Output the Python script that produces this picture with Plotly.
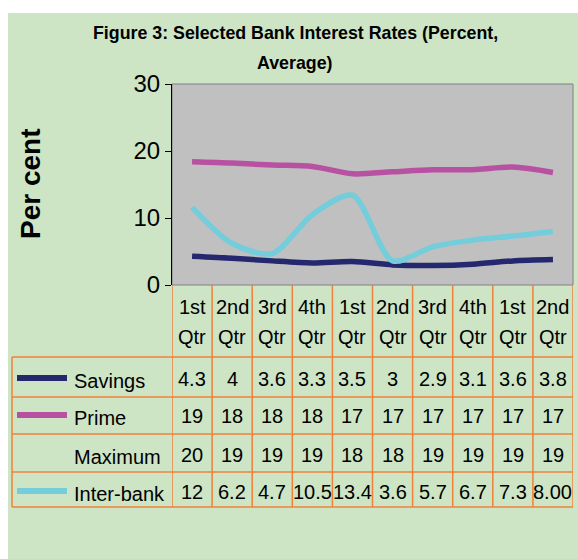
import plotly.graph_objects as go

# ---- data ----
quarters = ["1st Qtr", "2nd Qtr", "3rd Qtr", "4th Qtr", "1st Qtr",
            "2nd Qtr", "3rd Qtr", "4th Qtr", "1st Qtr", "2nd Qtr"]
savings = [4.3, 4.0, 3.6, 3.3, 3.5, 3.0, 2.9, 3.1, 3.6, 3.8]
prime = [18.4, 18.2, 17.9, 17.7, 16.6, 16.9, 17.2, 17.2, 17.6, 16.8]
interbank = [11.6, 6.2, 4.7, 10.5, 13.4, 3.6, 5.7, 6.7, 7.3, 8.0]

savings_tbl = ["4.3", "4", "3.6", "3.3", "3.5", "3", "2.9", "3.1", "3.6", "3.8"]
prime_tbl = ["19", "18", "18", "18", "17", "17", "17", "17", "17", "17"]
maximum_tbl = ["20", "19", "19", "19", "18", "18", "19", "19", "19", "19"]
interbank_tbl = ["12", "6.2", "4.7", "10.5", "13.4", "3.6", "5.7", "6.7", "7.3", "8.00"]

series_names = ["Savings", "Prime", "Maximum", "Inter-bank"]
series_colors = ["#25276f", "#b851a2", None, "#73cdda"]
y_ticks = [0, 10, 20, 30]

W, H = 578, 559
def px(x): return x / W
def py(y): return 1 - y / H

GREEN = "#cde5c4"
ORANGE = "#f0803a"
FONT = "Liberation Sans, Arial, sans-serif"

fig = go.Figure()
x_idx = list(range(len(quarters)))
for name, vals, col in [("Savings", savings, series_colors[0]),
                        ("Prime", prime, series_colors[1]),
                        ("Inter-bank", interbank, series_colors[3])]:
    fig.add_trace(go.Scatter(x=x_idx, y=vals, mode="lines", name=name,
                             line=dict(color=col, width=5.5, shape="spline", smoothing=0.8),
                             showlegend=False, hoverinfo="skip"))

shapes = []
# green background panel
shapes.append(dict(type="rect", xref="paper", yref="paper", x0=px(8), x1=1.0,
                   y0=0, y1=py(13), fillcolor=GREEN, line=dict(width=0), layer="below"))
# plot area
shapes.append(dict(type="rect", xref="x domain", yref="y domain", x0=0, x1=1, y0=0, y1=1,
                   fillcolor="#c0c0c0", line=dict(color="#808080", width=1), layer="below"))

# table lines
row_lines = [357, 397, 434, 472, 507]
for yy in row_lines:
    shapes.append(dict(type="line", xref="paper", yref="paper", x0=px(12), x1=px(573),
                       y0=py(yy), y1=py(yy), line=dict(color=ORANGE, width=1.5)))
shapes.append(dict(type="line", xref="paper", yref="paper", x0=px(12), x1=px(12),
                   y0=py(357), y1=py(507), line=dict(color=ORANGE, width=1.5)))
for i in range(len(quarters) + 1):
    shapes.append(dict(type="line", xref="x", yref="paper", x0=i - 0.5, x1=i - 0.5,
                       y0=py(285), y1=py(507), line=dict(color=ORANGE, width=1.5)))

annotations = []
# title
annotations.append(dict(text="<b>Figure 3: Selected Bank Interest Rates (Percent,</b>",
                        x=px(295), y=py(33), xref="paper", yref="paper", showarrow=False,
                        font=dict(family=FONT, size=17.8, color="black"),
                        xanchor="center", yanchor="middle"))
annotations.append(dict(text="<b>Average)</b>",
                        x=px(295), y=py(63), xref="paper", yref="paper", showarrow=False,
                        font=dict(family=FONT, size=17.8, color="black"),
                        xanchor="center", yanchor="middle"))
# y title
annotations.append(dict(text="<b>Per cent</b>", x=px(31), y=py(184), xref="paper", yref="paper",
                        showarrow=False, textangle=-90,
                        font=dict(family=FONT, size=28, color="black"),
                        xanchor="center", yanchor="middle"))
# category labels
for i, q in enumerate(quarters):
    a, b = q.split(" ")
    annotations.append(dict(text=a, x=i, y=py(307), xref="x", yref="paper", showarrow=False,
                            font=dict(family=FONT, size=20, color="black"),
                            xanchor="center", yanchor="middle"))
    annotations.append(dict(text=b, x=i, y=py(337), xref="x", yref="paper", showarrow=False,
                            font=dict(family=FONT, size=20, color="black"),
                            xanchor="center", yanchor="middle"))

row_y = [379, 416, 455, 492]
tables = [savings_tbl, prime_tbl, maximum_tbl, interbank_tbl]
for r, (name, col, tbl) in enumerate(zip(series_names, series_colors, tables)):
    ry = row_y[r]
    annotations.append(dict(text=name, x=px(72), y=py(ry + 2), xref="paper", yref="paper",
                            showarrow=False, font=dict(family=FONT, size=20, color="black"),
                            xanchor="left", yanchor="middle"))
    if col:
        shapes.append(dict(type="line", xref="paper", yref="paper", x0=px(17), x1=px(67),
                           y0=py(ry - 1), y1=py(ry - 1), line=dict(color=col, width=6)))
    for i, t in enumerate(tbl):
        annotations.append(dict(text=t, x=i, y=py(ry), xref="x", yref="paper", showarrow=False,
                                font=dict(family=FONT, size=20, color="black"),
                                xanchor="center", yanchor="middle"))

fig.update_layout(
    width=W, height=H,
    margin=dict(l=0, r=0, t=0, b=0, autoexpand=False),
    paper_bgcolor="white",
    plot_bgcolor="rgba(0,0,0,0)",
    xaxis=dict(domain=[px(172), px(573)], range=[-0.5, len(quarters) - 0.5],
               showticklabels=False, showgrid=False, zeroline=False, showline=False,
               ticks="", automargin=False),
    yaxis=dict(domain=[py(285), py(84)], range=[0, 30], tickvals=y_ticks,
               ticks="outside", ticklen=6, tickcolor="black", showline=True,
               linecolor="black", linewidth=1, showgrid=False, zeroline=False,
               automargin=False,
               tickfont=dict(family=FONT, size=24, color="black")),
    shapes=shapes,
    annotations=annotations,
)

post = (
    "var h=document.documentElement,b=document.body;"
    "h.style.margin='0';h.style.padding='0';h.style.overflow='hidden';"
    "b.style.margin='0';b.style.padding='0';b.style.overflow='hidden';"
)
fig.write_html("out.html", config={"displayModeBar": False}, post_script=post)
